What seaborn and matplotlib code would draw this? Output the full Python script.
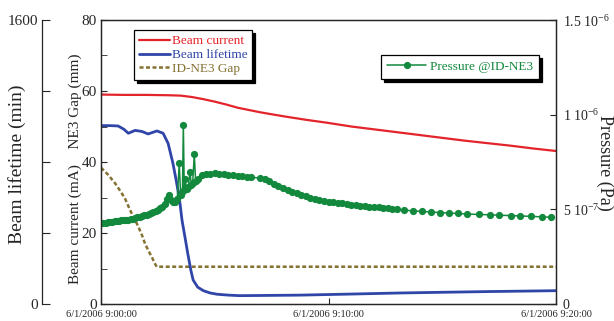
import numpy as np
import pandas as pd
import matplotlib
matplotlib.use("Agg")
import matplotlib.pyplot as plt
import seaborn as sns
from matplotlib.ticker import FixedLocator, FixedFormatter, MultipleLocator

# data (time in minutes after 9:00:00)
current_t = [0, 1, 2, 3, 3.5, 4.0, 4.5, 5.0, 5.5, 6, 7, 8, 9, 10, 11, 12, 13, 14, 15, 16, 17, 18, 19, 20]
current_ma = [59.0, 58.9, 58.9, 58.8, 58.7, 58.3, 57.7, 57.0, 56.2, 55.3, 54.0, 52.9, 51.9, 51.0, 50.0,
              49.2, 48.4, 47.6, 46.8, 46.0, 45.3, 44.6, 43.8, 43.1]

life_t = [0, 0.4, 0.75, 1.0, 1.2, 1.5, 1.8, 2.07, 2.3, 2.46, 2.73, 2.95, 3.16, 3.3, 3.45, 3.56, 3.7,
          3.82, 3.95, 4.05, 4.25, 4.5, 4.8, 5.1, 5.6, 6.1, 7, 8.75, 11, 13.1, 15, 17, 20]
life_min = [1005, 1005, 1003, 985, 962, 978, 972, 958, 968, 975, 962, 905, 794, 700, 590, 473, 370,
            280, 190, 135, 95, 75, 62, 55, 50, 47, 48, 50, 56, 62, 66, 70, 75]

gap_t = [0, 0.3, 0.62, 0.85, 1.05, 1.2, 1.35, 1.5, 1.64, 1.8, 1.93, 2.1, 2.23, 2.35, 2.45, 20]
gap_mm = [38.4, 36.5, 34.0, 31.8, 29.8, 27.6, 25.5, 23.6, 21.8, 19.4, 17.1, 14.8, 13.3, 11.6, 10.5, 10.5]

press_t = [0.0, 0.1, 0.2, 0.3, 0.4, 0.5, 0.6, 0.7, 0.8, 0.9, 1.0, 1.1, 1.2, 1.3, 1.4, 1.5, 1.6, 1.7,
           1.8, 1.9, 2.0, 2.1, 2.2, 2.3, 2.4, 2.5, 2.6, 2.7, 2.8, 2.9, 3.0, 3.08, 3.16, 3.25, 3.35,
           3.44, 3.5, 3.58, 3.62, 3.66, 3.7, 3.76, 3.84, 3.91, 3.97, 4.03, 4.1, 4.16, 4.28, 4.43,
           4.6, 4.8, 5.0, 5.2, 5.4, 5.6, 5.8, 6.0, 6.2, 6.4, 6.6, 7.0, 7.2, 7.4, 7.6, 7.8, 8.0,
           8.2, 8.4, 8.6, 8.8, 9.0, 9.2, 9.4, 9.6, 9.8, 10.0, 10.2, 10.4, 10.6, 10.8, 11.0, 11.2,
           11.4, 11.6, 11.8, 12.0, 12.2, 12.4, 12.6, 12.8, 13.0, 13.3, 13.7, 14.1, 14.5, 14.9,
           15.3, 15.7, 16.1, 16.6, 17.1, 17.5, 18.0, 18.4, 18.9, 19.4, 19.8]
press_e7 = [4.26, 4.27, 4.29, 4.31, 4.33, 4.35, 4.38, 4.39, 4.41, 4.42, 4.43, 4.45, 4.46, 4.48, 4.51,
            4.54, 4.57, 4.60, 4.64, 4.68, 4.72, 4.76, 4.81, 4.86, 4.92, 4.98, 5.06, 5.14, 5.30, 5.55,
            5.76, 5.50, 5.38, 5.40, 5.55, 7.43, 5.76, 5.90, 9.45, 6.00, 6.60, 6.05, 6.20, 6.99, 6.30,
            6.40, 7.90, 6.50, 6.60, 6.81, 6.86, 6.88, 6.90, 6.88, 6.85, 6.82, 6.80, 6.76, 6.74, 6.72,
            6.70, 6.64, 6.58, 6.48, 6.36, 6.24, 6.14, 6.03, 5.94, 5.85, 5.78, 5.70, 5.62, 5.56, 5.50,
            5.46, 5.41, 5.38, 5.34, 5.31, 5.27, 5.25, 5.22, 5.19, 5.17, 5.14, 5.12, 5.10, 5.07, 5.05,
            5.02, 5.00, 4.96, 4.92, 4.89, 4.86, 4.83, 4.80, 4.78, 4.75, 4.73, 4.71, 4.69, 4.67, 4.65,
            4.63, 4.60, 4.58]

x_ticks = [0, 10, 20]
x_labels = ["6/1/2006 9:00:00", "6/1/2006 9:10:00", "6/1/2006 9:20:00"]

RED = "#e3242b"
BLUE = "#3045a8"
OLIVE = "#857131"
GREEN = "#12893d"

sns.set_style("ticks")
plt.rcParams["font.family"] = ["Liberation Serif", "DejaVu Serif"]
plt.rcParams["xtick.direction"] = "in"
plt.rcParams["ytick.direction"] = "in"
plt.rcParams["axes.linewidth"] = 0.9

fig = plt.figure(figsize=(6.14, 3.21), dpi=100)
ax = fig.add_axes([101 / 614, 1 - 304 / 321, 455 / 614, 284 / 321])
ax_life = ax.twinx()
ax_p = ax.twinx()

# current and gap on the inner left axis
sns.lineplot(x=current_t, y=current_ma, ax=ax, color=RED, linewidth=1.6, sort=False, estimator=None)
sns.lineplot(x=gap_t, y=gap_mm, ax=ax, color=OLIVE, linewidth=1.8, sort=False, estimator=None,
             dashes=False)
ax.lines[-1].set_dashes((1.6, 1.0))
ax.set_xlim(0, 20)
ax.set_ylim(0, 80)
ax.yaxis.set_major_locator(MultipleLocator(20))
ax.yaxis.set_minor_locator(MultipleLocator(10))
ax.set_xticks(x_ticks)
ax.set_xticklabels(x_labels, fontsize=7.5)
ax.tick_params(axis="x", length=4, pad=4.2)
ax.tick_params(axis="y", labelsize=11, length=4, pad=3)
ax.tick_params(axis="y", which="minor", length=4)
ax.set_xlabel("")
ax.set_ylabel("")

# lifetime on the outer left axis
sns.lineplot(x=life_t, y=life_min, ax=ax_life, color=BLUE, linewidth=2.0, sort=False, estimator=None)
ax_life.set_ylim(0, 1600)
ax_life.yaxis.tick_left()
ax_life.spines["left"].set_position(("axes", -0.1297))
ax_life.spines["left"].set_visible(True)
for s in ["right", "top", "bottom"]:
    ax_life.spines[s].set_visible(False)
ax_life.yaxis.set_major_locator(FixedLocator([0, 400, 800, 1200, 1600]))
ax_life.yaxis.set_major_formatter(FixedFormatter(["0", "", "", "", "1600"]))
ax_life.tick_params(axis="y", labelsize=11, length=6, pad=3)
ax_life.set_ylabel("")

# pressure on the right axis
press_pa = [v * 1e-7 for v in press_e7]
sns.lineplot(x=press_t, y=press_pa, ax=ax_p, color=GREEN, linewidth=1.1, marker="o",
             markersize=5.2, markeredgewidth=0, sort=False, estimator=None)
ax_p.set_ylim(0, 1.5e-6)
ax_p.yaxis.set_major_locator(FixedLocator([0, 5e-7, 1e-6, 1.5e-6]))
ax_p.yaxis.set_major_formatter(FixedFormatter([
    "0", "5 10$^{\\mathregular{-7}}$", "1 10$^{\\mathregular{-6}}$", "1.5 10$^{\\mathregular{-6}}$"]))
ax_p.tick_params(axis="y", labelsize=10, length=4, pad=5)
ax_p.set_ylabel("")

# axis titles
fig.text(17 / 614, 1 - 164 / 321, "Beam lifetime (min)", rotation=90, ha="center", va="center",
         fontsize=14)
fig.text(75 / 614, 1 - 169 / 321, "Beam current (mA)    NE3 Gap (mm)", rotation=90, ha="center",
         va="center", fontsize=11)
fig.text(605 / 614, 1 - 163 / 321, "Pressure (Pa)", rotation=270, ha="center", va="center",
         fontsize=13)

# legends
h1 = [ax.lines[0], ax_life.lines[0], ax.lines[1]]
leg1 = ax_p.legend(h1, ["Beam current", "Beam lifetime", "ID-NE3 Gap"], loc="upper left",
                   bbox_to_anchor=(0.0725, 0.965), borderaxespad=0, fontsize=9.5,
                   labelcolor="linecolor", handlelength=2.3, handletextpad=0.15, labelspacing=0.12,
                   borderpad=0.4, fancybox=False, edgecolor="black", framealpha=1,
                   shadow={"color": "black", "alpha": 1, "ox": 2, "oy": -2})
leg1.get_frame().set_linewidth(0.9)
ax_p.add_artist(leg1)
leg2 = ax_p.legend([ax_p.lines[0]], ["Pressure @ID-NE3"], loc="upper left",
                   bbox_to_anchor=(0.615, 0.877), borderaxespad=0, fontsize=9.5,
                   labelcolor="linecolor", handlelength=3.0, handletextpad=0.3, borderpad=0.45,
                   fancybox=False, edgecolor="black", framealpha=1,
                   shadow={"color": "black", "alpha": 1, "ox": 2, "oy": -2})
leg2.get_frame().set_linewidth(0.9)

fig.savefig("out.png", dpi=100)
